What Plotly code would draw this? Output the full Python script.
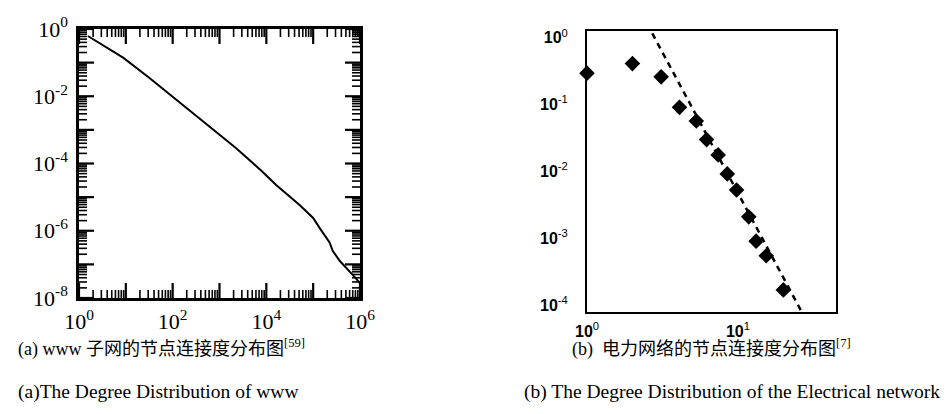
import plotly.graph_objects as go

# ---- data ----
www_degree = [1.55, 4.0, 8.9, 32, 95, 316, 1000, 2240, 7940, 16200, 51300,
              1.0e5, 1.38e5, 1.78e5, 2.24e5, 2.63e5, 3.72e5, 7.08e5, 1.0e6]
www_prob = [0.62, 0.28, 0.138, 0.035, 0.0102, 2.7e-3, 7.2e-4, 2.9e-4, 6.0e-5,
            2.3e-5, 5.8e-6, 2.4e-6, 1.2e-6, 7.1e-7, 4.5e-7, 2.5e-7, 1.26e-7,
            4.8e-8, 2.8e-8]

power_degree = [1.0, 2.0, 3.1, 4.1, 5.3, 6.2, 7.4, 8.5, 9.8, 11.8, 13.2, 15.4, 20]
power_prob = [0.295, 0.41, 0.26, 0.091, 0.057, 0.030, 0.0177, 0.0092, 0.0053,
              0.0021, 0.00091, 0.00055, 0.00017]

fit_degree = [2.5, 28]
fit_prob = [1.62, 6.3e-5]

left_yticks = [1, 1e-1, 1e-2, 1e-3, 1e-4, 1e-5, 1e-6, 1e-7, 1e-8]
left_ytext = ["10<sup>0</sup>", " ", "10<sup>-2</sup>", " ", "10<sup>-4</sup>", " ",
              "10<sup>-6</sup>", " ", "10<sup>-8</sup>"]
left_xticks = [1, 10, 100, 1e3, 1e4, 1e5, 1e6]
left_xtext = ["10<sup>0</sup>", " ", "10<sup>2</sup>", " ", "10<sup>4</sup>", " ",
              "10<sup>6</sup>"]
right_yticks = [1, 1e-1, 1e-2, 1e-3, 1e-4]
right_ytext = ["<b>10</b><sup>0</sup>", "<b>10</b><sup>-1</sup>", "<b>10</b><sup>-2</sup>",
               "<b>10</b><sup>-3</sup>", "<b>10</b><sup>-4</sup>"]
right_xticks = [1, 10]
right_xtext = ["<b>10</b><sup>0</sup>", "<b>10</b><sup>1</sup>"]

cap_a1 = "(a) www 子网的节点连接度分布图<sup>[59]</sup>"
cap_a2 = "(a)The Degree Distribution of www"
cap_b1 = "(b)  电力网络的节点连接度分布图<sup>[7]</sup>"
cap_b2 = "(b) The Degree Distribution of the Electrical network"

W, H = 951, 414
LX0, LX1, LY0, LY1 = 71, 352, 21, 290      # left panel frame (px)
RX0, RX1, RY0, RY1 = 579, 828, 23, 304     # right panel frame (px)
LXR, LYR = (0, 6), (-8, 0)                 # left panel log ranges

fig = go.Figure()
fig.add_trace(go.Scatter(x=www_degree, y=www_prob, mode="lines",
                         line=dict(color="black", width=2),
                         xaxis="x", yaxis="y", showlegend=False))
fig.add_trace(go.Scatter(x=fit_degree, y=fit_prob, mode="lines",
                         line=dict(color="black", width=2.5, dash="6px,5px"),
                         xaxis="x2", yaxis="y2", showlegend=False))
fig.add_trace(go.Scatter(x=power_degree, y=power_prob, mode="markers",
                         marker=dict(symbol="diamond", size=12, color="black"),
                         cliponaxis=False,
                         xaxis="x2", yaxis="y2", showlegend=False))

# ---- inside tick marks on all four sides of the left panel ----
px_per_dec_x = (LX1 - LX0) / (LXR[1] - LXR[0])
px_per_dec_y = (LY1 - LY0) / (LYR[1] - LYR[0])
x_minor = [m * 10 ** k for k in range(0, 6) for m in range(2, 10)]
y_minor = [m * 10 ** k for k in range(-8, 0) for m in range(2, 10)]
ybot, ytop = 10.0 ** LYR[0], 10.0 ** LYR[1]
xlft, xrgt = 10.0 ** LXR[0], 10.0 ** LXR[1]

for vals, ln, wd in ((left_xticks, 15, 2.2), (x_minor, 8, 1.6)):
    f = 10 ** (ln / px_per_dec_y)
    tx, ty = [], []
    for v in vals:
        tx += [v, v, None, v, v, None]
        ty += [ybot, ybot * f, None, ytop, ytop / f, None]
    fig.add_trace(go.Scatter(x=tx, y=ty, mode="lines", hoverinfo="skip",
                             line=dict(color="black", width=wd),
                             xaxis="x", yaxis="y", showlegend=False))
for vals, ln, wd in ((left_yticks, 15, 2.2), (y_minor, 8, 1.6)):
    f = 10 ** (ln / px_per_dec_x)
    tx, ty = [], []
    for v in vals:
        tx += [xlft, xlft * f, None, xrgt, xrgt / f, None]
        ty += [v, v, None, v, v, None]
    fig.add_trace(go.Scatter(x=tx, y=ty, mode="lines", hoverinfo="skip",
                             line=dict(color="black", width=wd),
                             xaxis="x", yaxis="y", showlegend=False))

serif = dict(family="Liberation Serif", size=22, color="black")
sans = dict(family="Liberation Sans", size=16, color="black")

fig.update_layout(
    width=W, height=H, margin=dict(l=0, r=0, t=0, b=0, autoexpand=False),
    paper_bgcolor="white", plot_bgcolor="white",
    xaxis=dict(type="log", showgrid=False, zeroline=False, showline=True,
               linecolor="black", linewidth=2.5, mirror=True, ticks="",
               tickfont=serif, ticklabelstandoff=2,
               domain=[LX0 / W, LX1 / W], range=list(LXR),
               tickvals=left_xticks, ticktext=left_xtext, anchor="y"),
    yaxis=dict(type="log", showgrid=False, zeroline=False, showline=True,
               linecolor="black", linewidth=2.5, mirror=True, ticks="",
               tickfont=serif, ticklabelstandoff=4,
               domain=[1 - LY1 / H, 1 - LY0 / H], range=list(LYR),
               tickvals=left_yticks, ticktext=left_ytext, anchor="x"),
    xaxis2=dict(type="log", showgrid=False, zeroline=False, showline=True,
                linecolor="black", linewidth=2, mirror=True, ticks="",
                domain=[RX0 / W, RX1 / W], range=[0, 1.65], ticklabelstandoff=4,
                tickvals=right_xticks, ticktext=right_xtext,
                tickfont=sans, anchor="y2"),
    yaxis2=dict(type="log", showgrid=False, zeroline=False, showline=True,
                linecolor="black", linewidth=2, mirror=True, ticks="",
                domain=[1 - RY1 / H, 1 - RY0 / H], range=[-4.1, 0.1],
                ticklabelstandoff=14,
                tickvals=right_yticks, ticktext=right_ytext,
                tickfont=sans, anchor="x2"),
)

cap_font1 = dict(family="Liberation Serif, Noto Sans CJK SC", size=18, color="black")
cap_font2 = dict(family="Liberation Serif", size=19.5, color="black")
fig.add_annotation(text=cap_a1, x=8 / W, y=1 - 340 / H, xref="paper", yref="paper",
                   showarrow=False, xanchor="left", yanchor="middle", font=cap_font1)
fig.add_annotation(text=cap_a2, x=8 / W, y=1 - 384 / H, xref="paper", yref="paper",
                   showarrow=False, xanchor="left", yanchor="middle", font=cap_font2)
fig.add_annotation(text=cap_b1, x=562 / W, y=1 - 340 / H, xref="paper", yref="paper",
                   showarrow=False, xanchor="left", yanchor="middle", font=cap_font1)
fig.add_annotation(text=cap_b2, x=514 / W, y=1 - 384 / H, xref="paper", yref="paper",
                   showarrow=False, xanchor="left", yanchor="middle", font=cap_font2)

fig.write_html("out.html")
